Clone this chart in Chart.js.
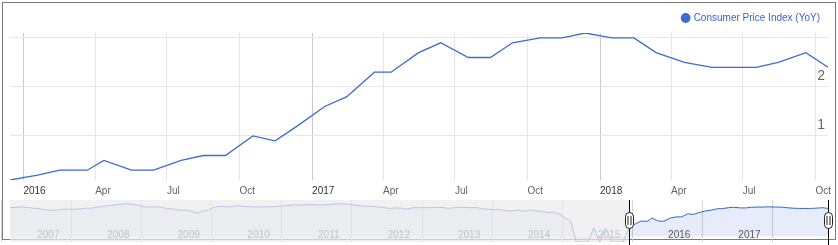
<!DOCTYPE html>
<html><head><meta charset="utf-8">
<script src="https://cdn.jsdelivr.net/npm/chart.js@4.4.1/dist/chart.umd.min.js"></script>
<style>
html,body{margin:0;padding:0;background:#fff;}
#wrap{position:relative;width:838px;height:245px;overflow:hidden;}
#frame{position:absolute;left:2px;top:2px;width:832px;height:236px;border:1px solid #7a7a7a;}
#main{position:absolute;left:0;top:0;}
#nav{position:absolute;left:0;top:198px;}
</style></head><body>
<div id="wrap">
<div id="frame"></div>
<canvas id="main" width="838" height="204"></canvas>
<canvas id="nav" width="838" height="47"></canvas>
</div>
<script>
// ---- data: UK CPI YoY (%), plotted at release dates ----
const seriesName = 'Consumer Price Index (YoY)';
const releaseDates = ['2015-12-15','2016-01-19','2016-02-16','2016-03-22','2016-04-12','2016-05-17','2016-06-14','2016-07-19','2016-08-16','2016-09-13','2016-10-18','2016-11-15','2016-12-13','2017-01-17','2017-02-14','2017-03-21','2017-04-11','2017-05-16','2017-06-13','2017-07-18','2017-08-15','2017-09-12','2017-10-17','2017-11-14','2017-12-13','2018-01-16','2018-02-13','2018-03-13','2018-04-18','2018-05-23','2018-06-13','2018-07-18','2018-08-15','2018-09-19','2018-10-17'];
const cpiYoY = [0.1,0.2,0.3,0.3,0.5,0.3,0.3,0.5,0.6,0.6,1.0,0.9,1.2,1.6,1.8,2.3,2.3,2.7,2.9,2.6,2.6,2.9,3.0,3.0,3.1,3.0,3.0,2.7,2.5,2.4,2.4,2.4,2.5,2.7,2.4];

// navigator history (monthly, Jan..Dec of each year)
const hist2007 = [2.7,2.8,3.1,2.8,2.5,2.4,1.9,1.8,1.8,2.1,2.1,2.1];
const hist2008 = [2.2,2.5,2.5,3.0,3.3,3.8,4.4,4.7,5.2,4.5,4.1,3.1];
const hist2009 = [3.0,3.2,2.9,2.3,2.2,1.8,1.8,1.6,1.1,1.5,1.9,2.9];
const hist2010 = [3.5,3.0,3.4,3.7,3.4,3.2,3.1,3.1,3.1,3.2,3.3,3.7];
const hist2011 = [4.0,4.4,4.0,4.5,4.5,4.2,4.4,4.5,5.2,5.0,4.8,4.2];
const hist2012 = [3.6,3.4,3.5,3.0,2.8,2.4,2.6,2.5,2.2,2.7,2.7,2.7];
const hist2013 = [2.7,2.8,2.8,2.4,2.7,2.9,2.8,2.7,2.7,2.2,2.1,2.0];
const hist2014 = [1.9,1.7,1.6,1.8,1.5,1.9,1.6,1.5,1.2,1.3,1.0,0.5];
const hist2015 = [0.3,0.0,0.0,-0.1,0.1,0.0,0.1,0.0,-0.1,-0.1];
const historyYears = [2007,2008,2009,2010,2011,2012,2013,2014,2015];
const historyValues = [hist2007,hist2008,hist2009,hist2010,hist2011,hist2012,hist2013,hist2014,hist2015];

// axis ticks
const xTickDates = ['2016-01-01','2016-04-01','2016-07-01','2016-10-01','2017-01-01','2017-04-01','2017-07-01','2017-10-01','2018-01-01','2018-04-01','2018-07-01','2018-10-01'];
const xTickLabels = ['2016','Apr','Jul','Oct','2017','Apr','Jul','Oct','2018','Apr','Jul','Oct'];
const yTicks = [1,2,3];
const yTickLabels = ['1','2',''];
const navYears = [2007,2008,2009,2010,2011,2012,2013,2014,2015,2016,2017,2018];
const navYearLabels = ['2007','2008','2009','2010','2011','2012','2013','2014','2015','2016','2017',''];

// ---- helpers / styles ----
const FONT = "'Liberation Sans', Arial, Helvetica, sans-serif";
const LINE = '#3b6bd6';
const day = s => Date.parse(s + 'T00:00:00Z') / 864e5;
const mainData = releaseDates.map((d, i) => ({x: day(d), y: cpiYoY[i]}));
const navData = [];
historyYears.forEach((yr, k) => historyValues[k].forEach((v, m) => navData.push({x: Date.UTC(yr, m + 1, 15) / 864e5, y: v})));
mainData.forEach(p => navData.push({x: p.x, y: p.y}));
const selMin = day(releaseDates[0]);
const selMax = day(releaseDates[releaseDates.length - 1]);
const xTickVals = xTickDates.map(day);
const isYearTick = v => (xTickLabels[xTickVals.indexOf(v)] || '').length === 4;

// main chart
new Chart(document.getElementById('main'), {
  type: 'line',
  data: {datasets: [{label: seriesName, data: mainData, borderColor: LINE, backgroundColor: LINE,
    borderWidth: 1.3, pointRadius: 0, tension: 0, fill: false}]},
  options: {
    responsive: false, animation: false, events: [], devicePixelRatio: 1,
    layout: {padding: {left: 10, right: 10, top: 3, bottom: 2}},
    plugins: {
      tooltip: {enabled: false},
      legend: {position: 'top', align: 'end',
        labels: {usePointStyle: true, pointStyle: 'circle', boxWidth: 6, boxHeight: 6, padding: 8,
          color: '#3366cc', font: {family: FONT, size: 10}}}
    },
    scales: {
      x: {type: 'linear', bounds: 'data', min: selMin, max: selMax,
        afterBuildTicks: s => { s.ticks = xTickVals.map(v => ({value: v})); },
        ticks: {autoSkip: false, maxRotation: 0, align: 'start', padding: 5,
          font: {family: FONT, size: 10},
          color: c => isYearTick(c.tick.value) ? '#333' : '#666',
          callback: v => xTickLabels[xTickVals.indexOf(v)] ?? ''},
        grid: {drawTicks: false, lineWidth: 1,
          color: c => (c.tick && isYearTick(c.tick.value)) ? '#c8c8c8' : '#e6e6e6'},
        border: {display: false}},
      y: {position: 'right', min: 0.1, max: 3.1, bounds: 'data',
        afterBuildTicks: s => { s.ticks = yTicks.map(v => ({value: v})); },
        ticks: {autoSkip: false, mirror: true, padding: -3, labelOffset: -10.5, color: '#666',
          font: c => ({family: FONT, size: 14, lineHeight: (c.tick && c.tick.value === 3) ? '72px' : 1.2}),
          callback: v => yTickLabels[yTicks.indexOf(v)] ?? ''},
        grid: {drawTicks: false, color: '#e6e6ee', lineWidth: 1},
        border: {display: false}}
    }
  }
});

// navigator: log-type scale that keeps non-positive readings at a floor
const NAV_FLOOR = 0.01;
class NavLogScale extends Chart.LogarithmicScale {
  parse(raw, index) {
    const v = Chart.LinearScale.prototype.parse.call(this, raw, index);
    return (v === null || v === undefined) ? v : Math.max(v, NAV_FLOOR);
  }
}
NavLogScale.id = 'navlog';
NavLogScale.defaults = Chart.LogarithmicScale.defaults;
Chart.register(NavLogScale);

const navDecor = {
  id: 'navDecor',
  afterDraw(chart) {
    const {ctx, chartArea: a, scales: {x}} = chart;
    const x0 = x.getPixelForValue(selMin), x1 = x.getPixelForValue(selMax);
    ctx.save();
    ctx.fillStyle = 'rgba(236,236,236,0.72)';
    if (x0 > a.left) ctx.fillRect(a.left, a.top, x0 - a.left, a.bottom - a.top);
    if (x1 < a.right) ctx.fillRect(x1, a.top, a.right - x1, a.bottom - a.top);
    const H = chart.height;
    const cy = a.top + 20.5;
    [x0, x1].forEach(hx => {
      const px = Math.round(hx) + 0.5;
      ctx.strokeStyle = '#000'; ctx.lineWidth = 1;
      ctx.beginPath(); ctx.moveTo(px, a.top); ctx.lineTo(px, H); ctx.stroke();
      const w = 8, h = 16, r = 4;
      ctx.beginPath();
      ctx.roundRect(px - w / 2, cy - h / 2, w, h, r);
      ctx.fillStyle = '#fff'; ctx.fill();
      ctx.strokeStyle = '#222'; ctx.stroke();
      ctx.beginPath();
      ctx.moveTo(px - 1.5, cy - 4.5); ctx.lineTo(px - 1.5, cy + 4.5);
      ctx.moveTo(px + 1.5, cy - 4.5); ctx.lineTo(px + 1.5, cy + 4.5);
      ctx.stroke();
    });
    ctx.restore();
  }
};

const navTickVals = navYears.map(y => Date.UTC(y, 0, 1) / 864e5);
new Chart(document.getElementById('nav'), {
  type: 'line',
  data: {datasets: [{data: navData, borderColor: '#3366cc', backgroundColor: 'rgba(51,102,204,0.12)',
    borderWidth: 1, pointRadius: 0, tension: 0, fill: {value: 0.025}}]},
  options: {
    responsive: false, animation: false, events: [], devicePixelRatio: 1,
    layout: {padding: {left: 10, right: 10, top: 2, bottom: 3}},
    plugins: {legend: {display: false}, tooltip: {enabled: false}},
    scales: {
      x: {type: 'linear', bounds: 'data', min: navData[0].x, max: selMax,
        afterBuildTicks: s => { s.ticks = navTickVals.map(v => ({value: v})); },
        ticks: {autoSkip: false, maxRotation: 0, padding: -12.5, labelOffset: 47, color: '#555',
          font: {family: FONT, size: 10},
          callback: v => navYearLabels[navTickVals.indexOf(v)] ?? ''},
        grid: {drawTicks: false, color: '#d4d4d4', lineWidth: 1},
        border: {display: false}},
      y: {type: 'navlog', display: false, bounds: 'data', min: 0.0044, max: 9.49}
    }
  },
  plugins: [navDecor]
});
</script>
</body></html>
